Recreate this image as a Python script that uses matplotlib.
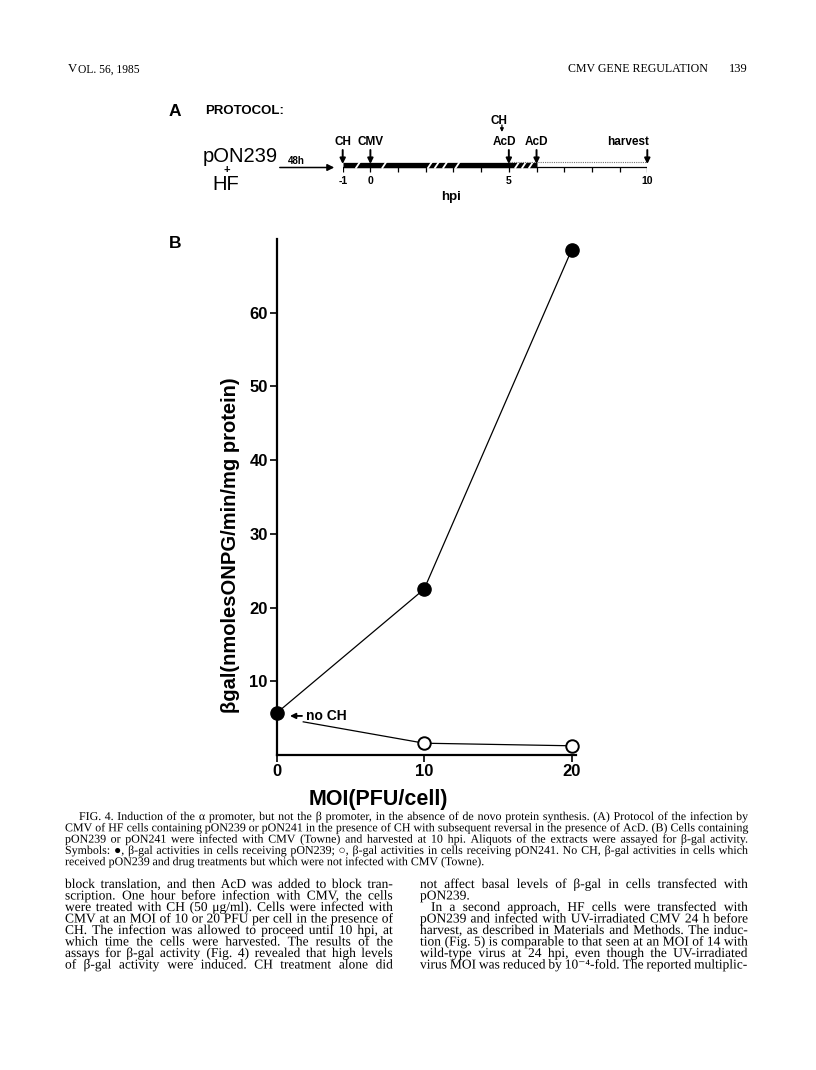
import matplotlib
matplotlib.use("Agg")
import matplotlib.pyplot as plt
import matplotlib.patheffects as pe
from matplotlib.transforms import Affine2D
from matplotlib.patches import FancyArrowPatch

plt.rcParams['font.family'] = ['Liberation Sans', 'DejaVu Sans']
SERIF = ['Liberation Serif', 'DejaVu Serif', 'DejaVu Sans']

# --- data (panel B) ---
moi = [0, 10, 20]
pon239 = [5.7, 22.5, 68.5]
moi_241 = [1.8, 10, 20]          # line starts at the "no CH" label
pon241 = [4.5, 1.6, 1.25]
yticks = [10, 20, 30, 40, 50, 60]
xticks = [0, 10, 20]

# --- data (panel A, protocol) ---
event_hours = [-1, 0, 5, 6, 10]
event_labels = ['CH', 'CMV', 'AcD', 'AcD', 'harvest']
hour_ticks = list(range(-1, 11))
hour_label_pos = [-1, 0, 5, 10]
hour_label_txt = ['-1', '0', '5', '10']
ch_block = [-1, 6]
acd_span = [5, 10]
bar_breaks = [-0.45, 0.5, 2.15, 2.4, 2.7, 3.15, 5.3, 5.55, 5.8]

caption = [
    "FIG. 4. Induction of the \u03b1 promoter, but not the \u03b2 promoter, in the absence of de novo protein synthesis. (A) Protocol of the infection by",
    "CMV of HF cells containing pON239 or pON241 in the presence of CH with subsequent reversal in the presence of AcD. (B) Cells containing",
    "pON239 or pON241 were infected with CMV (Towne) and harvested at 10 hpi. Aliquots of the extracts were assayed for \u03b2-gal activity.",
    "Symbols: \u25cf, \u03b2-gal activities in cells receiving pON239; \u25cb, \u03b2-gal activities in cells receiving pON241. No CH, \u03b2-gal activities in cells which",
    "received pON239 and drug treatments but which were not infected with CMV (Towne).",
]
left_col = [
    "block translation, and then AcD was added to block tran-",
    "scription. One hour before infection with CMV, the cells",
    "were treated with CH (50 \u03bcg/ml). Cells were infected with",
    "CMV at an MOI of 10 or 20 PFU per cell in the presence of",
    "CH. The infection was allowed to proceed until 10 hpi, at",
    "which time the cells were harvested. The results of the",
    "assays for \u03b2-gal activity (Fig. 4) revealed that high levels",
    "of \u03b2-gal activity were induced. CH treatment alone did",
]
right_col = [
    "not affect basal levels of \u03b2-gal in cells transfected with",
    "pON239.",
    "In a second approach, HF cells were transfected with",
    "pON239 and infected with UV-irradiated CMV 24 h before",
    "harvest, as described in Materials and Methods. The induc-",
    "tion (Fig. 5) is comparable to that seen at an MOI of 14 with",
    "wild-type virus at 24 hpi, even though the UV-irradiated",
    "virus MOI was reduced by 10\u207b\u2074-fold. The reported multiplic-",
]

W, H = 816, 1070
fig = plt.figure(figsize=(W / 100, H / 100), dpi=100)
page = Affine2D().scale(1 / W, -1 / H).translate(0, 1) + fig.transFigure
renderer = fig.canvas.get_renderer()


def measure(words, size):
    # path effect -> drawn as paths, so words keep a common baseline
    arts = [fig.text(0, 0, w, transform=page, fontsize=size, family=SERIF,
                     va='baseline', path_effects=[pe.Normal()]) for w in words]
    widths = [a.get_window_extent(renderer).width for a in arts]
    return arts, widths


def text_line(s, x0, x1, y, size, justify=True):
    # words placed one by one so the line is justified between x0 and x1
    words = s.split(' ')
    while True:
        arts, widths = measure(words, size)
        space = size * 100 / 72 * 0.25
        if not (justify and len(words) > 1):
            gap = space
            break
        gap = (x1 - x0 - sum(widths)) / (len(words) - 1)
        if gap >= 2.2 or size < 6:
            break
        for a in arts:
            a.remove()
        size -= 0.15
    x = x0
    for a, w in zip(arts, widths):
        a.set_position((x, y))
        x += w + gap


# header
t = fig.text(68, 72.5, "V", transform=page, fontsize=9.2, family=SERIF)
wv = t.get_window_extent(renderer).width
fig.text(68 + wv + 0.5, 72.5, "OL. 56, 1985", transform=page, fontsize=8.3, family=SERIF)
fig.text(708, 72.5, "CMV GENE REGULATION", transform=page, fontsize=8.6, family=SERIF, ha='right')
fig.text(748, 72.5, "139", transform=page, fontsize=9, family=SERIF, ha='right')

# ---------------- panel A: protocol ----------------
fig.text(175, 111, "A", transform=page, fontsize=12.5, fontweight='bold', ha='center', va='center')
fig.text(205, 111, "PROTOCOL:", transform=page, fontsize=9.5, fontweight='bold', va='center')
fig.text(203, 157, "pON239", transform=page, fontsize=14.5, va='center')
fig.text(227, 170, "+", transform=page, fontsize=8, fontweight='bold', ha='center', va='center')
fig.text(226, 184, "HF", transform=page, fontsize=14.5, ha='center', va='center')
fig.text(296, 161, "48h", transform=page, fontsize=7, fontweight='bold', ha='center', va='center')
fig.add_artist(FancyArrowPatch((277, 167.5), (337, 167.5), transform=page, arrowstyle='-|>',
                               mutation_scale=10, lw=1.1, color='k'))

axA = fig.add_axes([342.7 / W, 1 - 210 / H, (647.3 - 342.7) / W, 110 / H])
axA.set_xlim(-1, 10)
axA.set_ylim(210, 100)
axA.axis('off')
axA.plot([hour_ticks[0], hour_ticks[-1]], [167, 167], color='k', lw=0.9)
axA.vlines(hour_ticks, 167, 171.5, color='k', lw=0.9)
axA.plot(ch_block, [165, 165], color='k', lw=3.8, solid_capstyle='butt')
for h in bar_breaks:
    axA.plot([h - 0.07, h + 0.07], [167.9, 162.1], color='white', lw=1.3)
axA.plot(acd_span, [162.2, 162.2], color='0.45', lw=0.8, ls=(0, (1, 1)))
for h, lab in zip(event_hours, event_labels):
    axA.annotate('', xy=(h, 164), xytext=(h, 150),
                 arrowprops=dict(arrowstyle='-|>', lw=1.4, color='k', mutation_scale=8,
                                 shrinkA=0, shrinkB=0))
    if lab == 'harvest':
        axA.text(h + 0.05, 142, lab, ha='right', va='center', fontsize=8.5, fontweight='bold')
    else:
        axA.text(h - 0.15 if h == 5 else h, 142, lab, ha='center', va='center',
                 fontsize=8.5, fontweight='bold')
axA.text(4.65, 121, 'CH', ha='center', va='center', fontsize=8.5, fontweight='bold')
axA.annotate('', xy=(4.75, 132), xytext=(4.75, 125),
             arrowprops=dict(arrowstyle='-|>', lw=0.9, color='k', mutation_scale=5,
                             shrinkA=0, shrinkB=0))
for h, lab in zip(hour_label_pos, hour_label_txt):
    axA.text(h, 181, lab, ha='center', va='center', fontsize=7.5, fontweight='bold')
axA.text(2.9, 197, 'hpi', ha='center', va='center', fontsize=9.5, fontweight='bold')

# ---------------- panel B: chart ----------------
fig.text(175, 244, "B", transform=page, fontsize=12.5, fontweight='bold', ha='center', va='center')
axB = fig.add_axes([276.7 / W, 1 - 755 / H, (576 - 276.7) / W, (755 - 239) / H])
axB.set_xlim(0, 20.3)
axB.set_ylim(0, 70)
for s in ['top', 'right']:
    axB.spines[s].set_visible(False)
for s in ['left', 'bottom']:
    axB.spines[s].set_linewidth(1.6)
axB.plot(moi, pon239, color='k', lw=0.9, marker='o', ms=9.5, mfc='k', mec='k',
         clip_on=False, zorder=3)
axB.plot(moi_241, pon241, color='k', lw=0.9, marker='o', ms=9, mfc='white', mec='k',
         mew=1.4, markevery=[1, 2], clip_on=False, zorder=3)
axB.set_yticks(yticks)
axB.set_xticks(xticks)
axB.tick_params(direction='out', length=5, width=1.2, labelsize=12, pad=1.5)
for lab in axB.get_xticklabels() + axB.get_yticklabels():
    lab.set_fontweight('bold')
axB.annotate('no CH', xy=(0.9, 5.3), xytext=(2.0, 5.3), ha='left', va='center',
             fontsize=10, fontweight='bold',
             arrowprops=dict(arrowstyle='-|>', color='k', lw=1.3, mutation_scale=8,
                             shrinkA=1, shrinkB=0))
axB.text(-0.156, 0.407, '\u03b2gal(nmolesONPG/min/mg protein)', transform=axB.transAxes,
         rotation=90, ha='center', va='center', fontsize=14.5, fontweight='bold')
fig.text(378, 800, "MOI(PFU/cell)", transform=page, fontsize=15.5, fontweight='bold',
         ha='center', va='center')

# ---------------- caption & body text ----------------
cap_y0, cap_dy = 820, 11.3
for i, line in enumerate(caption):
    x0 = 79 if i == 0 else 65
    text_line(line, x0, 748, cap_y0 + i * cap_dy, 8.6, justify=(i < len(caption) - 1))

body_y0, body_dy = 888, 11.5
for i, line in enumerate(left_col):
    text_line(line, 65, 393, body_y0 + i * body_dy, 9.7)
for i, line in enumerate(right_col):
    x0 = 431 if i == 2 else 420
    text_line(line, x0, 748, body_y0 + i * body_dy, 9.7, justify=(i != 1))

fig.savefig('out.png', dpi=100)
